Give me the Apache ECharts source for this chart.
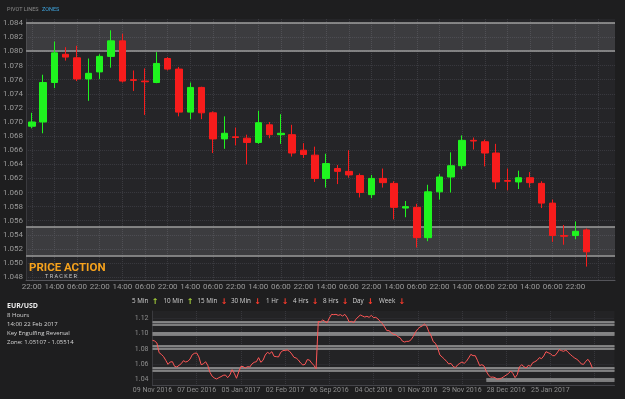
<!DOCTYPE html>
<html>
<head>
<meta charset="utf-8">
<script src="https://cdn.jsdelivr.net/npm/echarts@6/dist/echarts.min.js"></script>
<style>
  html, body { margin: 0; padding: 0; background: #1e1e1f; }
  #chart { width: 625px; height: 399px; }
</style>
</head>
<body>
<div id="chart"></div>
<script>
// 8 hour candles, EUR/USD
var candleTimes = [
  '22:00','06:00','14:00','22:00','06:00','14:00','22:00','06:00','14:00','22:00',
  '06:00','14:00','22:00','06:00','14:00','22:00','06:00','14:00','22:00','06:00',
  '14:00','22:00','06:00','14:00','22:00','06:00','14:00','22:00','06:00','14:00',
  '22:00','06:00','14:00','22:00','06:00','14:00','22:00','06:00','14:00','22:00',
  '06:00','14:00','22:00','06:00','14:00','22:00','06:00','14:00','22:00','06:00',
  '', ''
];
var openVals = [
  1.0694,1.0700,1.0756,1.0796,1.0791,1.0761,1.0771,1.0793,1.0815,1.0760,
  1.0758,1.0756,1.0790,1.0775,1.0714,1.0749,1.0713,1.0676,1.0679,1.0677,
  1.0671,1.0696,1.0682,1.0682,1.0660,1.0653,1.0620,1.0634,1.0630,1.0624,
  1.0597,1.0620,1.0613,1.0578,1.0579,1.0536,1.0601,1.0622,1.0638,1.0674,
  1.0672,1.0656,1.0617,1.0615,1.0621,1.0613,1.0585,1.0539,1.0539,1.0547
];
var closeVals = [
  1.0700,1.0756,1.0798,1.0792,1.0761,1.0769,1.0793,1.0815,1.0758,1.0759,
  1.0757,1.0783,1.0775,1.0714,1.0749,1.0713,1.0676,1.0684,1.0678,1.0671,
  1.0699,1.0682,1.0684,1.0656,1.0654,1.0620,1.0641,1.0630,1.0625,1.0600,
  1.0620,1.0614,1.0579,1.0580,1.0536,1.0601,1.0622,1.0638,1.0674,1.0673,
  1.0656,1.0615,1.0616,1.0621,1.0614,1.0585,1.0539,1.0538,1.0545,1.0516
];
var lowVals = [
  1.0691,1.0684,1.0748,1.0787,1.0758,1.0730,1.0761,1.0777,1.0756,1.0744,
  1.0710,1.0755,1.0773,1.0708,1.0704,1.0704,1.0656,1.0662,1.0667,1.0640,
  1.0669,1.0677,1.0669,1.0651,1.0649,1.0615,1.0607,1.0612,1.0621,1.0593,
  1.0592,1.0607,1.0562,1.0565,1.0522,1.0531,1.0590,1.0600,1.0633,1.0661,
  1.0637,1.0605,1.0603,1.0605,1.0607,1.0578,1.0530,1.0526,1.0534,1.0495
];
var highVals = [
  1.0713,1.0767,1.0814,1.0806,1.0808,1.0790,1.0796,1.0830,1.0825,1.0773,
  1.0776,1.0799,1.0792,1.0778,1.0756,1.0750,1.0715,1.0708,1.0692,1.0682,
  1.0716,1.0700,1.0711,1.0696,1.0670,1.0665,1.0655,1.0639,1.0660,1.0627,
  1.0625,1.0634,1.0616,1.0588,1.0584,1.0611,1.0626,1.0657,1.0681,1.0678,
  1.0675,1.0669,1.0634,1.0631,1.0629,1.0616,1.0590,1.0554,1.0559,1.0549
];
var priceTicks = [1.048,1.050,1.052,1.054,1.056,1.058,1.060,1.062,1.064,1.066,
  1.068,1.070,1.072,1.074,1.076,1.078,1.080,1.082,1.084];

// zones shown on the main chart
var zoneLow = [1.0801, 1.05107];
var zoneHigh = [1.0841, 1.05514];

// daily history (two pieces, as drawn by the tracker)
var historyA = [
  1.0911,1.0902,1.0876,1.0749,1.0727,1.0697,1.0649,1.0596,1.0627,1.0631,
  1.0570,1.0561,1.0583,1.0605,1.0644,1.0627,1.0636,1.0666,1.0723,1.0741,
  1.0745,1.0693,1.0592,1.0601,1.0631,1.0583,1.0491,1.0439,1.0417,1.0404,
  1.0421,1.0435,1.0452,1.0456,1.0421,1.0456,1.0526,1.0478,1.0413,1.0496,
  1.0570,1.0566,1.0548,1.0566,1.0561,1.0601,1.0623,1.0631,1.0684,1.0623,
  1.0649,1.0719,1.0754,1.0736,1.0762,1.0701,1.0697,1.0693,1.0754,1.0776,
  1.0780,1.0784,1.0767,1.0732,1.0688,1.0679,1.0653,1.0614,1.0588,1.0596,
  1.0658,1.0653,1.0614,1.0583,1.0539
];
var historyB = [
  1.1160,1.1152,1.1178,1.1160,1.1143,1.1204,1.1252,1.1248,1.1252,1.1239,
  1.1248,1.1230,1.1252,1.1213,1.1152,1.1160,1.1143,1.1187,1.1217,1.1243,
  1.1230,1.1217,1.1226,1.1213,1.1239,1.1208,1.1213,1.1191,1.1160,1.1130,
  1.1086,1.1038,1.1038,1.1012,1.0990,1.0985,1.0959,1.0946,1.0902,1.0889,
  1.0898,1.0898,1.0920,1.0964,1.1020,1.1060,1.1086,1.1099,1.1125,1.1099,
  1.1025,1.0972,1.0894,1.0872,1.0811,1.0719,1.0693,1.0666,1.0636,1.0601,
  1.0609,1.0570,1.0553,1.0588,1.0609,1.0627,1.0609,1.0636,1.0679,1.0727,
  1.0710,1.0710,1.0649,1.0579,1.0592,1.0574,1.0504,1.0456,1.0426,1.0430,
  1.0421,1.0400,1.0408,1.0417,1.0435,1.0456,1.0474,1.0509,1.0478,1.0421,
  1.0461,1.0561,1.0592,1.0566,1.0548,1.0583,1.0570,1.0618,1.0631,1.0649,
  1.0684,1.0671,1.0706,1.0762,1.0749,1.0736,1.0710,1.0710,1.0745,1.0789,
  1.0776,1.0767,1.0784,1.0754,1.0727,1.0701,1.0679,1.0662,1.0636,1.0601,
  1.0596,1.0636,1.0662,1.0618,1.0548
];
var historyLabels = ['09 Nov 2016','07 Dec 2016','05 Jan 2017','02 Feb 2017','06 Sep 2016',
  '04 Oct 2016','01 Nov 2016','29 Nov 2016','28 Dec 2016','25 Jan 2017',''];
var historyTicks = [1.04, 1.06, 1.08, 1.10, 1.12];

// zones on the history chart; start is the day index where a zone begins
var histZoneLow = [1.1121, 1.0985, 1.0802, 1.0513, 1.0386];
var histZoneHigh = [1.1156, 1.1016, 1.0841, 1.0553, 1.0404];
var histZoneStart = [0, 0, 0, 0, 151];
var histDays = 209;

var frames = ['5 Min','10 Min','15 Min','30 Min','1 Hr','4 Hrs','8 Hrs','Day','Week'];
var frameUp = [true, true, false, false, false, false, false, false, false];
var frameLeft = [132, 163.5, 197.5, 231, 266, 293, 323, 352.5, 379];

var infoLines = ['8 Hours', '14:00 22 Feb 2017', 'Key Engulfing Reversal', 'Zone: 1.05107 - 1.05514'];

var candleData = openVals.map(function (o, i) {
  return [o, closeVals[i], lowVals[i], highVals[i]];
});
var historyData = historyA.concat(historyB).map(function (v, i) {
  return [i, v];
});

var mainAreas = zoneLow.map(function (lo, i) {
  return [{ yAxis: lo }, { yAxis: zoneHigh[i] }];
});
var mainEdges = [];
zoneLow.forEach(function (lo, i) {
  mainEdges.push({ yAxis: lo });
  mainEdges.push({ yAxis: zoneHigh[i] });
});

var histAreas = histZoneLow.map(function (lo, i) {
  return [{ xAxis: histZoneStart[i], yAxis: lo }, { xAxis: histDays, yAxis: histZoneHigh[i] }];
});
var histEdges = [];
histZoneLow.forEach(function (lo, i) {
  [lo, histZoneHigh[i]].forEach(function (v) {
    histEdges.push([{ coord: [histZoneStart[i], v] }, { coord: [histDays, v] }]);
  });
});

var graphics = [
  { type: 'text', x: 7, y: 10, style: { text: 'PIVOT LINES', fill: '#8a8a8a', font: '5.5px Roboto', verticalAlign: 'middle' } },
  { type: 'text', x: 42, y: 10, style: { text: 'ZONES', fill: '#3ea3dc', font: '5.5px Roboto', verticalAlign: 'middle' } },
  { type: 'text', x: 29, y: 268.5, z: 50, style: { text: 'PRICE ACTION', fill: '#f6a21c', font: 'bold 11.5px Roboto', verticalAlign: 'middle' } },
  { type: 'text', x: 45, y: 276.5, z: 50, style: { text: 'T R A C K E R', fill: '#c8c8c8', font: '5.5px Roboto', verticalAlign: 'middle' } },
  { type: 'text', x: 7, y: 305.5, style: { text: 'EUR/USD', fill: '#ececec', font: 'bold 7px "Open Sans"', verticalAlign: 'middle' } }
];
infoLines.forEach(function (t, i) {
  graphics.push({ type: 'text', x: 7, y: 315.7 + i * 8.7,
    style: { text: t, fill: '#d6d6d6', font: '6px "Open Sans"', verticalAlign: 'middle' } });
});
frames.forEach(function (t, i) {
  graphics.push({ type: 'text', x: frameLeft[i], y: 301.7,
    style: {
      text: '{t|' + t + '} {' + (frameUp[i] ? 'u' : 'd') + '|' + (frameUp[i] ? '↑' : '↓') + '}',
      verticalAlign: 'middle',
      rich: {
        t: { fill: '#d2d2d2', font: '6.3px "Open Sans"' },
        u: { fill: '#a6d23a', font: 'bold 8px "DejaVu Sans"' },
        d: { fill: '#ff3b2c', font: 'bold 8px "DejaVu Sans"' }
      }
    } });
});

var chart = echarts.init(document.getElementById('chart'));
chart.setOption({
  backgroundColor: '#1e1e1f',
  animation: false,
  grid: [
    { left: 26, right: 10, top: 19, bottom: 119, show: true, backgroundColor: '#252528', borderWidth: 0 },
    { left: 152.5, right: 10.5, top: 311, bottom: 14, show: true, backgroundColor: '#232325', borderWidth: 0 }
  ],
  xAxis: [
    {
      gridIndex: 0,
      type: 'category',
      data: candleTimes,
      boundaryGap: true,
      axisLine: { lineStyle: { color: '#55555a' } },
      axisTick: { show: false },
      axisLabel: { interval: 1, color: '#9a9a9a', fontSize: 8, margin: 3, fontFamily: 'Roboto' },
      splitLine: { show: true, interval: 1, alignWithLabel: true, lineStyle: { color: '#3b3b40', type: 'dotted' } }
    },
    {
      gridIndex: 1,
      type: 'value',
      min: 0,
      max: histDays,
      interval: 20,
      axisLine: { lineStyle: { color: '#45454a' } },
      axisTick: { show: false },
      axisLabel: {
        color: '#8e8e8e', fontSize: 7, margin: 2, fontFamily: 'Roboto',
        formatter: function (v) { return historyLabels[v / 20] || ''; }
      },
      splitLine: { show: true, showMaxLine: false, lineStyle: { color: '#37373c', type: 'dotted' } }
    }
  ],
  yAxis: [
    {
      gridIndex: 0,
      type: 'value',
      min: 1.0476,
      max: 1.0846,
      axisLine: { show: true, lineStyle: { color: '#3a3a3e' } },
      axisTick: { show: false, customValues: priceTicks },
      axisLabel: {
        customValues: priceTicks, color: '#9a9a9a', fontSize: 8, margin: 3, fontFamily: 'Roboto',
        formatter: function (v) { return v.toFixed(3); }
      },
      splitLine: { show: true, lineStyle: { color: '#3b3b40', type: 'dotted' } }
    },
    {
      gridIndex: 1,
      type: 'value',
      min: 1.0325,
      max: 1.1296,
      axisLine: { show: true, lineStyle: { color: '#3a3a3e' } },
      axisTick: { show: false, customValues: historyTicks },
      axisLabel: {
        customValues: historyTicks, color: '#8e8e8e', fontSize: 7, margin: 4, fontFamily: 'Roboto',
        formatter: function (v) { return v.toFixed(2); }
      },
      splitLine: { show: true, lineStyle: { color: '#333338', type: 'dotted' } }
    }
  ],
  series: [
    {
      type: 'candlestick',
      xAxisIndex: 0,
      yAxisIndex: 0,
      z: 3,
      barWidth: 7,
      data: candleData,
      itemStyle: {
        color: '#1ff41f', color0: '#f71c1c',
        borderColor: '#1ff41f', borderColor0: '#f71c1c', borderWidth: 1
      },
      markArea: {
        silent: true, z: 1,
        itemStyle: { color: 'rgba(255,255,255,0.11)' },
        data: mainAreas
      },
      markLine: {
        silent: true, z: 2, symbol: 'none', precision: 6,
        label: { show: false },
        lineStyle: { color: '#9c9c9c', width: 1.5, type: 'solid' },
        data: mainEdges
      }
    },
    {
      type: 'line',
      xAxisIndex: 1,
      yAxisIndex: 1,
      z: 3,
      data: historyData,
      symbol: 'none',
      lineStyle: { color: '#ff5757', width: 1 },
      markArea: {
        silent: true, z: 1,
        itemStyle: { color: '#4a4a4d' },
        data: histAreas
      },
      markLine: {
        silent: true, z: 2, symbol: 'none', precision: 6,
        label: { show: false },
        lineStyle: { color: '#9a9a9a', width: 1.5, type: 'solid' },
        data: histEdges
      }
    }
  ],
  graphic: graphics
});
</script>
</body>
</html>
